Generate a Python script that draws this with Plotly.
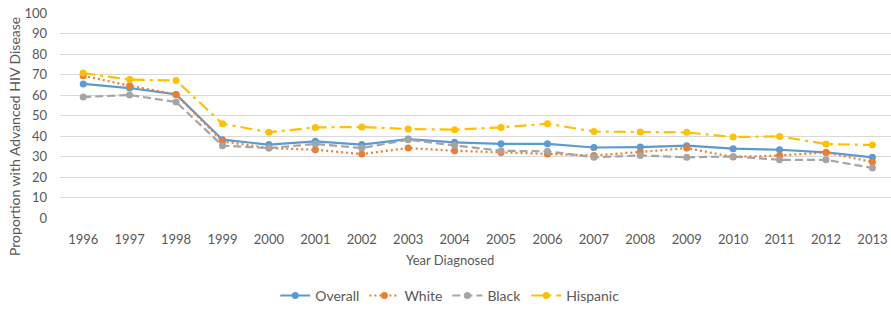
import plotly.graph_objects as go

years = list(range(1996, 2014))
overall = [65.4, 63.4, 60.3, 38.2, 35.8, 37.4, 35.8, 38.5, 36.9, 36.2, 36.2, 34.4, 34.6, 35.3, 33.8, 33.3, 32.0, 29.6]
white = [69.4, 64.5, 60.3, 37.4, 34.1, 33.3, 31.2, 34.1, 32.8, 32.0, 31.2, 30.5, 32.2, 34.1, 29.8, 30.5, 32.0, 27.3]
black = [59.0, 60.0, 56.6, 35.3, 34.1, 36.1, 34.1, 38.2, 35.4, 32.8, 32.5, 29.6, 30.5, 29.6, 30.0, 28.4, 28.4, 24.4]
hispanic = [70.7, 67.5, 67.1, 46.0, 41.8, 44.2, 44.4, 43.4, 43.1, 44.2, 46.0, 42.2, 41.9, 41.8, 39.5, 39.8, 36.1, 35.6]

series = [
    ("Overall", overall, "#5B9BD5", "solid"),
    ("White", white, "#ED7D31", "2px,3px"),
    ("Black", black, "#A5A5A5", "8px,4px"),
    ("Hispanic", hispanic, "#FFC000", "12px,5px,3px,5px"),
]

fig = go.Figure()
for name, vals, color, dash in series:
    fig.add_trace(go.Scatter(
        x=years, y=vals, name=name, mode="lines+markers",
        line=dict(color=color, width=2.2, dash=dash),
        marker=dict(color=color, size=7),
    ))

txt = "#595959"
font = dict(family="Lato, 'Open Sans', sans-serif", color=txt, size=13)
fig.update_layout(
    width=891, height=310,
    margin=dict(l=60, r=0, t=13, b=92, autoexpand=False),
    paper_bgcolor="white", plot_bgcolor="white",
    font=font,
    showlegend=True,
    legend=dict(orientation="h", x=0.469, xanchor="center", y=-0.38, yanchor="middle",
                font=dict(size=14, color=txt), itemwidth=30),
    xaxis=dict(range=[1995.5, 2013.4], tickmode="array", tickvals=years,
               ticktext=[str(y) for y in years], showgrid=False, zeroline=False,
               showline=False, ticks="", ticklabelstandoff=12, automargin=False,
               tickfont=dict(size=13, color=txt)),
    yaxis=dict(range=[0, 100], dtick=10, showgrid=True, gridcolor="#D9D9D9", gridwidth=1,
               zeroline=False, showline=False, ticks="", ticklabelstandoff=12, automargin=False,
               tickfont=dict(size=13, color=txt)),
    annotations=[
        dict(text="Proportion with Advanced HIV Disease", xref="paper", yref="paper",
             x=-0.0554, y=0.40, textangle=-90, showarrow=False,
             xanchor="center", yanchor="middle", font=dict(size=14, color=txt)),
        dict(text="Year Diagnosed", xref="paper", yref="paper",
             x=0.469, y=-0.205, showarrow=False,
             xanchor="center", yanchor="middle", font=dict(size=13, color=txt)),
    ],
)
fig.write_html("out.html", config={"displayModeBar": False},
               post_script="document.body.style.margin='0';document.body.style.overflow='hidden';")
